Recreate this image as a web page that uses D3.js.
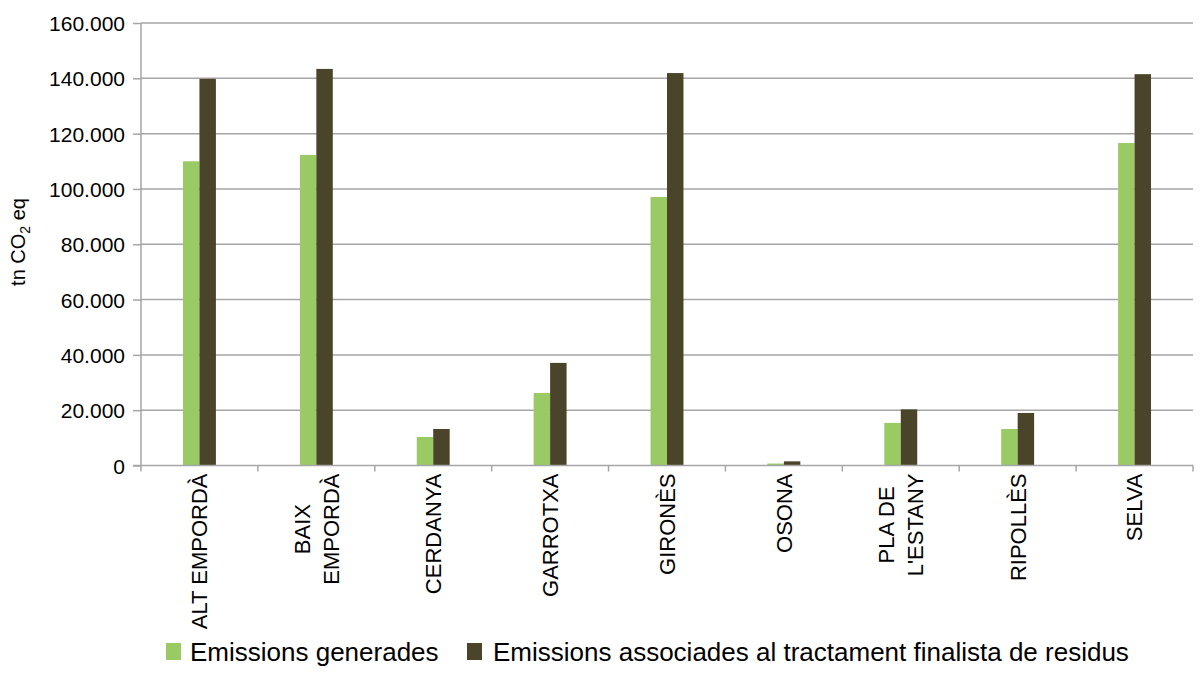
<!DOCTYPE html>
<html>
<head>
<meta charset="utf-8">
<script src="https://cdn.jsdelivr.net/npm/d3@7"></script>
<style>
  body { margin: 0; background: #fff; }
  text { font-family: "Liberation Sans", Arial, sans-serif; fill: #000; }
</style>
</head>
<body>
<div id="chart-area"></div>
<script>
var categories = ["ALT EMPORDÀ", "BAIX\nEMPORDÀ", "CERDANYA", "GARROTXA", "GIRONÈS", "OSONA", "PLA DE\nL'ESTANY", "RIPOLLÈS", "SELVA"];
var seriesNames = ["Emissions generades", "Emissions associades al tractament finalista de residus"];
var generades = [110000, 112300, 10300, 26200, 97100, 700, 15400, 13200, 116600];
var finalista = [139800, 143400, 13200, 37100, 141900, 1500, 20300, 19000, 141500];
var yTicks = [0, 20000, 40000, 60000, 80000, 100000, 120000, 140000, 160000];
var colors = ["#9aca63", "#4a452a"];

var margin = { left: 141, right: 8, top: 23, bottom: 225.5 };
var width = 1201 - margin.left - margin.right;
var height = 691 - margin.top - margin.bottom;

var svg = d3.select("#chart-area").append("svg")
    .attr("width", 1201)
    .attr("height", 691);

var g = svg.append("g")
    .attr("transform", `translate(${margin.left}, ${margin.top})`);

var locale = d3.formatLocale({ decimal: ",", thousands: ".", grouping: [3], currency: ["", ""] });
var fmt = locale.format(",.0f");

var x0 = d3.scaleBand()
    .domain(categories)
    .range([0, width])
    .padding(0);

var x1 = d3.scaleBand()
    .domain(seriesNames)
    .range([0, x0.bandwidth()])
    .paddingInner(0)
    .paddingOuter(2.55);

var y = d3.scaleLinear()
    .domain([0, 160000])
    .range([height, 0]);

// gridlines
g.selectAll(".grid")
    .data(yTicks.slice(1))
    .enter().append("line")
    .attr("x1", 0)
    .attr("x2", width)
    .attr("y1", d => y(d))
    .attr("y2", d => y(d))
    .attr("stroke", "#a6a6a6")
    .attr("stroke-width", 1.5);

// y axis
var yAxis = g.append("g")
    .call(d3.axisLeft(y).tickValues(yTicks).tickFormat(fmt).tickSize(8).tickPadding(8));
yAxis.select(".domain").remove();
yAxis.selectAll(".tick line").attr("stroke", "#a6a6a6").attr("stroke-width", 1.5);
yAxis.selectAll(".tick text")
    .style("font-size", "21px")
    .attr("dy", "0.36em");
g.append("line")
    .attr("x1", 0).attr("x2", 0)
    .attr("y1", 0).attr("y2", height + 6)
    .attr("stroke", "#a6a6a6").attr("stroke-width", 1.5);

// bars
var rows = categories.map((c, i) => ({ cat: c, values: [generades[i], finalista[i]] }));
var groups = g.selectAll(".group")
    .data(rows)
    .enter().append("g")
    .attr("transform", d => `translate(${x0(d.cat)}, 0)`);

groups.selectAll("rect")
    .data(d => d.values.map((v, j) => ({ s: seriesNames[j], v: v, j: j })))
    .enter().append("rect")
    .attr("x", d => x1(d.s))
    .attr("width", x1.bandwidth())
    .attr("y", d => y(d.v))
    .attr("height", d => height - y(d.v))
    .attr("fill", d => colors[d.j]);

// x axis baseline and ticks
g.append("line")
    .attr("x1", -8).attr("x2", width)
    .attr("y1", height).attr("y2", height)
    .attr("stroke", "#a6a6a6").attr("stroke-width", 1.5);
g.selectAll(".xtick")
    .data(categories)
    .enter().append("line")
    .attr("x1", d => x0(d) + x0.bandwidth())
    .attr("x2", d => x0(d) + x0.bandwidth())
    .attr("y1", height)
    .attr("y2", height + 6)
    .attr("stroke", "#a6a6a6").attr("stroke-width", 1.5);

// category labels, rotated
var lineH = 29;
var labels = g.selectAll(".xlabel")
    .data(categories)
    .enter().append("g")
    .attr("transform", d => `translate(${x0(d) + x0.bandwidth() / 2}, ${height + 8}) rotate(-90)`);

labels.each(function(d) {
    var lines = d.split("\n");
    var t = d3.select(this).append("text").style("font-size", "22px");
    lines.forEach((l, i) => {
        t.append("tspan")
            .attr("y", (i - (lines.length - 1) / 2) * lineH)
            .attr("dy", "0.36em")
            .text(l);
    });
    var maxLen = 0;
    t.selectAll("tspan").each(function() {
        maxLen = Math.max(maxLen, this.getComputedTextLength());
    });
    t.selectAll("tspan")
        .attr("x", -maxLen / 2)
        .attr("text-anchor", "middle");
});

// y axis title
var yTitle = svg.append("text")
    .attr("transform", `translate(25, 242) rotate(-90)`)
    .attr("text-anchor", "middle")
    .style("font-size", "20px");
yTitle.append("tspan").text("tn CO");
yTitle.append("tspan").attr("dy", 5).style("font-size", "14px").text("2");
yTitle.append("tspan").attr("dy", -5).text(" eq");

// legend
var legendItems = [{ x: 166, tx: 190 }, { x: 467, tx: 493 }];
var legend = svg.selectAll(".legend")
    .data(seriesNames)
    .enter().append("g");
legend.append("rect")
    .attr("x", (d, i) => legendItems[i].x)
    .attr("y", 643)
    .attr("width", 15)
    .attr("height", 17)
    .attr("fill", (d, i) => colors[i]);
legend.append("text")
    .attr("x", (d, i) => legendItems[i].tx)
    .attr("y", 652)
    .attr("dy", "0.36em")
    .style("font-size", "26px")
    .text(d => d);
</script>
</body>
</html>
